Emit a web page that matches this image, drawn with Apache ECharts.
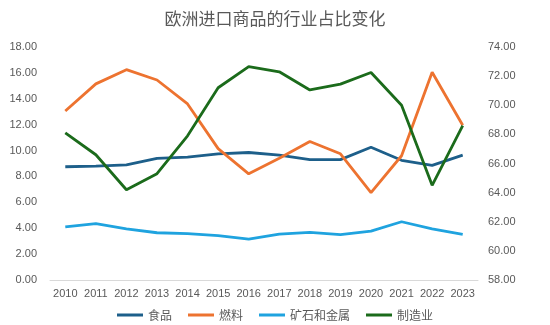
<!DOCTYPE html>
<html><head><meta charset="utf-8">
<script src="https://cdn.jsdelivr.net/npm/echarts@6/dist/echarts.min.js"></script>
<style>html,body{margin:0;padding:0;background:#fff}#c{width:550px;height:325px}</style>
</head><body><div id="c"></div>
<script>
const years = ['2010','2011','2012','2013','2014','2015','2016','2017','2018','2019','2020','2021','2022','2023'];
const food = [8.75, 8.8, 8.9, 9.4, 9.5, 9.75, 9.85, 9.65, 9.3, 9.3, 10.25, 9.25, 8.85, 9.65];
const fuel = [13.05, 15.15, 16.25, 15.45, 13.6, 10.15, 8.2, 9.4, 10.7, 9.75, 6.75, 9.6, 16.05, 11.95];
const ores = [4.1, 4.35, 3.95, 3.65, 3.58, 3.43, 3.15, 3.55, 3.68, 3.5, 3.78, 4.5, 3.95, 3.52];
const manuf = [68.1, 66.6, 64.2, 65.3, 67.9, 71.2, 72.65, 72.3, 71.05, 71.45, 72.25, 70.0, 64.5, 68.6];
const names = ['食品','燃料','矿石和金属','制造业'];
const colors = ['#1d5f8a','#ed7330','#1fa3df','#1b6b1b'];

const chart = echarts.init(document.getElementById('c'));
const lbl = {color:'#595959', fontSize:11, fontFamily:'Liberation Sans'};
const mk = (name, data, color, yi) => ({
  name, type:'line', data, yAxisIndex: yi, symbol:'none', smooth:false,
  lineStyle:{color, width:2.8}, itemStyle:{color}
});
chart.setOption({
  animation:false,
  title:{text:'欧洲进口商品的行业占比变化', left:'center', top:5,
    textStyle:{color:'#595959', fontSize:17, fontWeight:'normal', fontFamily:'Noto Sans CJK SC'}},
  grid:{left:50, right:72, top:47, bottom:45},
  legend:{bottom:-1, left:'center', icon:'rect', itemWidth:26, itemHeight:3, itemGap:16,
    textStyle:{color:'#595959', fontSize:12, fontFamily:'Noto Sans CJK SC'}, data:names},
  xAxis:{type:'category', data:years, boundaryGap:true,
    axisLine:{lineStyle:{color:'#d9d9d9'}},
    axisTick:{inside:true, length:5, interval:0, lineStyle:{color:'#d9d9d9'}},
    axisLabel:Object.assign({margin:8, interval:0}, lbl)},
  yAxis:[
    {type:'value', min:0, max:18, interval:2, splitLine:{show:false},
     axisLine:{show:false}, axisTick:{show:false},
     axisLabel:Object.assign({formatter:v=>v.toFixed(2), margin:13}, lbl)},
    {type:'value', min:58, max:74, interval:2, splitLine:{show:false},
     axisLine:{show:false}, axisTick:{show:false},
     axisLabel:Object.assign({formatter:v=>v.toFixed(2), margin:10}, lbl)}
  ],
  series:[
    mk(names[0], food, colors[0], 0),
    mk(names[1], fuel, colors[1], 0),
    mk(names[2], ores, colors[2], 0),
    mk(names[3], manuf, colors[3], 1)
  ]
});
</script></body></html>
